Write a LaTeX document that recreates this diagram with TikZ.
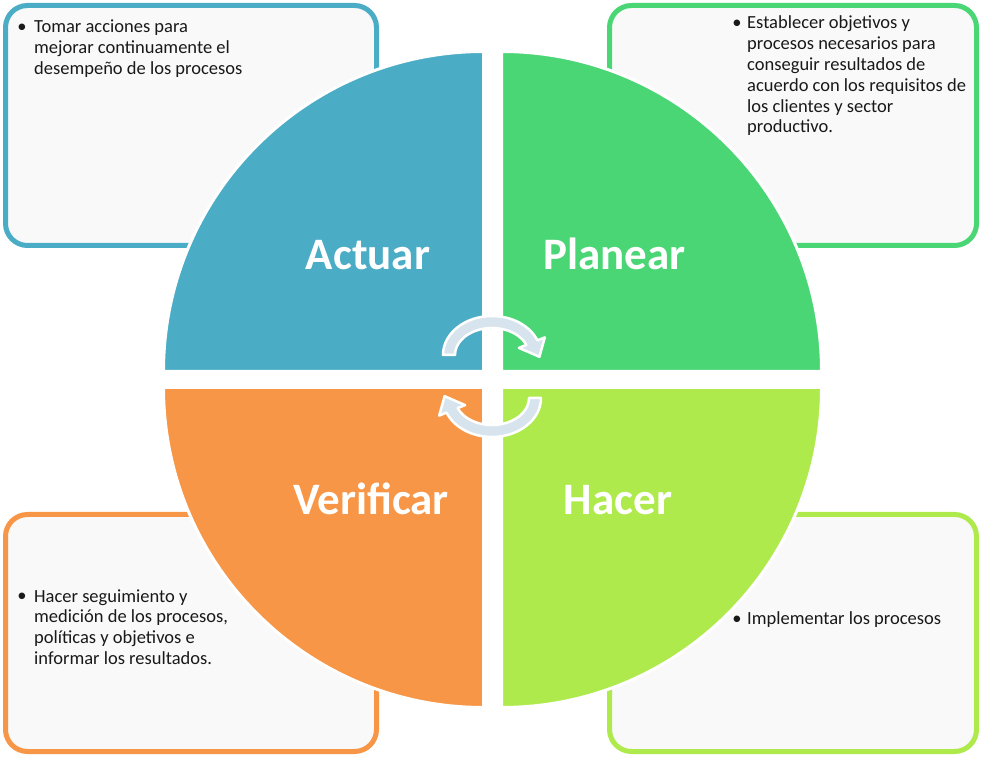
\documentclass[tikz,border=0pt]{standalone}
\usepackage{fontspec}
\setmainfont{Carlito}
\usetikzlibrary{positioning}

\definecolor{actuarblue}{HTML}{4BACC6}
\definecolor{planeargreen}{HTML}{4AD675}
\definecolor{hacerlime}{HTML}{AEEA4C}
\definecolor{verificarorange}{HTML}{F79646}
\definecolor{boxgray}{HTML}{F9F9F9}
\definecolor{cyclefill}{HTML}{D7E4EE}

\tikzset{
  infobox/.style={line width=5pt, rounded corners=22pt, fill=boxgray},
  quadrant/.style={draw=white, line width=3pt},
  phase/.style={anchor=base, text=white, inner sep=0pt,
    font=\fontsize{45}{50}\selectfont\bfseries},
  bulletdot/.style={anchor=base, inner sep=0pt, text=black!90,
    font=\fontsize{18.5}{20.8}\selectfont},
  bullettext/.style={anchor=base west, align=left, inner sep=0pt, text=black!90,
    font=\fontsize{18.5}{20.8}\selectfont},
  cyclearrow/.style={fill=cyclefill, draw=white, line width=2.5pt, line join=round}
}

\begin{document}
\begin{tikzpicture}[x=1pt, y=1pt]
    \useasboundingbox (0,0) rectangle (981,757);

    % Text boxes
    \draw[infobox, draw=actuarblue] (5.5,511.5) rectangle (376.5,751.5);
    \draw[infobox, draw=planeargreen] (609.5,511.5) rectangle (976.5,751.5);
    \draw[infobox, draw=verificarorange] (5.5,5.5) rectangle (376.5,242.5);
    \draw[infobox, draw=hacerlime] (609.5,5.5) rectangle (976.5,242.5);

    % Four quadrants of the cycle
    \filldraw[quadrant, fill=actuarblue] (483.5,385.5) -- ++(-320,0)
        arc[start angle=180, end angle=90, radius=320] -- cycle;
    \filldraw[quadrant, fill=planeargreen] (501.5,385.5) -- ++(0,320)
        arc[start angle=90, end angle=0, radius=320] -- cycle;
    \filldraw[quadrant, fill=verificarorange] (483.5,369.5) -- ++(0,-320)
        arc[start angle=270, end angle=180, radius=320] -- cycle;
    \filldraw[quadrant, fill=hacerlime] (501.5,369.5) -- ++(320,0)
        arc[start angle=0, end angle=-90, radius=320] -- cycle;

    % Phase names
    \node[phase] (actuar) at (368,487) {Actuar};
    \node[phase] (planear) at (614.5,487) {Planear};
    \node[phase] (verificar) at (371,242) {Verificar};
    \node[phase] (hacer) at (618,242) {Hacer};

    % Circular arrows in the middle
    \begin{scope}[shift={(492,402)}]
        \draw[cyclearrow] (-49,0) arc[start angle=180, end angle=22, x radius=49, y radius=39]
            -- (52.8,17.6) -- (47.4,-1.8) -- (26.9,7.1) -- (22:37 and 27)
            arc[start angle=22, end angle=180, x radius=37, y radius=27] -- cycle;
    \end{scope}
    \begin{scope}[shift={(492,359)}, rotate=180]
        \draw[cyclearrow] (-49,0) arc[start angle=180, end angle=22, x radius=49, y radius=39]
            -- (52.8,17.6) -- (47.4,-1.8) -- (26.9,7.1) -- (22:37 and 27)
            arc[start angle=22, end angle=180, x radius=37, y radius=27] -- cycle;
    \end{scope}

    % Box texts (text nodes sit on the baseline of their last line)
    \node[bulletdot] (actuar-dot) at (22,724) {•};
    \node[bullettext] (actuar-text) at (34,682.4) {Tomar acciones para\\mejorar continuamente el\\desempeño de los procesos};

    \node[bulletdot] (planear-dot) at (737,728) {•};
    \node[bullettext] (planear-text) at (747,624) {Establecer objetivos y\\procesos necesarios para\\conseguir resultados de\\acuerdo con los requisitos de\\los clientes y sector\\productivo.};

    \node[bulletdot] (verificar-dot) at (22,155) {•};
    \node[bullettext] (verificar-text) at (34,92.6) {Hacer seguimiento y\\medición de los procesos,\\políticas y objetivos e\\informar los resultados.};

    \node[bulletdot] (hacer-dot) at (737,132) {•};
    \node[bullettext] (hacer-text) at (747,132) {Implementar los procesos};

\end{tikzpicture}
\end{document}
